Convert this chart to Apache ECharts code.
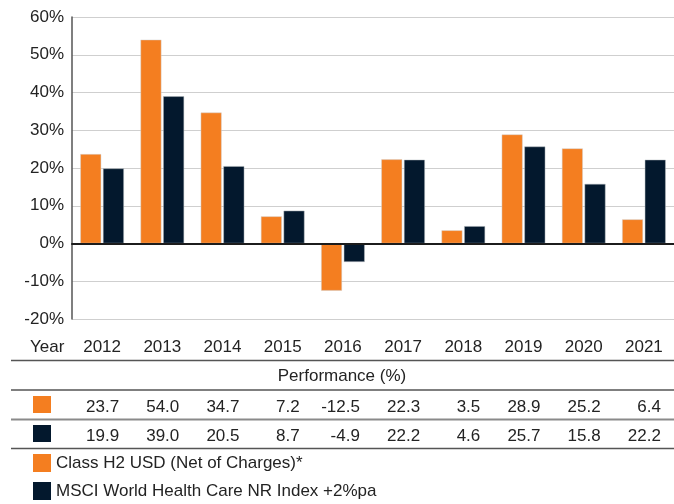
<!DOCTYPE html>
<html>
<head>
<meta charset="utf-8">
<script src="https://cdn.jsdelivr.net/npm/echarts@6/dist/echarts.min.js"></script>
<style>
  html, body { margin: 0; padding: 0; background: #fff; }
  #chart { width: 674px; height: 504px; }
</style>
</head>
<body>
<div id="chart"></div>
<script>
// chart data
const years = ['2012', '2013', '2014', '2015', '2016', '2017', '2018', '2019', '2020', '2021'];
const classH2 = [23.7, 54.0, 34.7, 7.2, -12.5, 22.3, 3.5, 28.9, 25.2, 6.4];
const msciIndex = [19.9, 39.0, 20.5, 8.7, -4.9, 22.2, 4.6, 25.7, 15.8, 22.2];
const seriesNames = ['Class H2 USD (Net of Charges)*', 'MSCI World Health Care NR Index +2%pa'];
const yMin = -20, yMax = 60, yStep = 10;

const ORANGE = '#f47e20';
const NAVY = '#03182d';
const FONT = "'Liberation Sans', Arial, sans-serif";
const TXT = '#232323';

let chart = echarts.init(document.getElementById('chart'));

// axis that only shows a row of table values under each year
function valueRow(values, offset) {
  return {
    type: 'category',
    data: years,
    position: 'bottom',
    offset: offset,
    axisLine: { show: false, onZero: false },
    axisTick: { show: false },
    axisLabel: {
      interval: 0,
      margin: 0,
      formatter: function (v, i) {
        return '{v|' + values[i].toFixed(1) + '}'
      },
      rich: {
        v: { width: 34, align: 'right', fontSize: 17, fontFamily: FONT, color: TXT }
      }
    }
  }
}

let option = {
  animation: false,
  color: [ORANGE, NAVY],
  textStyle: { fontFamily: FONT },
  grid: { left: 72, right: -3, top: 17, bottom: 185 },
  legend: {
    orient: 'vertical',
    left: 33,
    top: 454,
    height: 100,
    icon: 'rect',
    itemWidth: 18,
    itemHeight: 18,
    itemGap: 10,
    padding: 0,
    data: seriesNames,
    itemStyle: { borderWidth: 0 },
    textStyle: { fontSize: 17, color: TXT, fontFamily: FONT }
  },
  xAxis: [
    {
      type: 'category',
      data: years,
      position: 'bottom',
      axisLine: { show: false, onZero: false },
      axisTick: { show: false },
      axisLabel: { interval: 0, margin: 20, fontSize: 17, color: TXT, fontFamily: FONT }
    },
    {
      // zero line
      type: 'category',
      data: years,
      z: 5,
      axisLine: { show: true, onZero: true, lineStyle: { color: '#1c1c1c', width: 2 } },
      axisTick: { show: false },
      axisLabel: { show: false }
    },
    valueRow(classH2, 80),
    valueRow(msciIndex, 109)
  ],
  yAxis: {
    type: 'value',
    min: yMin,
    max: yMax,
    interval: yStep,
    axisLine: { show: true, lineStyle: { color: '#555', width: 1.5 } },
    axisTick: { show: false },
    axisLabel: { formatter: '{value}%', margin: 8, fontSize: 17, color: TXT, fontFamily: FONT },
    splitLine: { lineStyle: { color: '#cfcfcf', width: 1 } }
  },
  series: [
    {
      name: seriesNames[0],
      type: 'bar',
      data: classH2,
      barWidth: 21,
      barGap: '8%',
      itemStyle: { borderColor: 'rgba(210,210,210,0.8)', borderWidth: 0.6 }
    },
    {
      name: seriesNames[1],
      type: 'bar',
      data: msciIndex,
      barWidth: 21,
      barGap: '8%',
      itemStyle: { borderColor: 'rgba(180,185,190,0.8)', borderWidth: 0.6 }
    }
  ],
  graphic: [
    { type: 'text', left: 30, top: 339, style: { text: 'Year', fontSize: 17, fill: TXT, fontFamily: FONT } },
    { type: 'line', shape: { x1: 11, y1: 360.5, x2: 674, y2: 360.5 }, style: { stroke: '#555', lineWidth: 1.5 } },
    { type: 'text', x: 342, y: 376, style: { text: 'Performance (%)', fontSize: 17, fill: TXT, fontFamily: FONT, align: 'center', verticalAlign: 'middle' } },
    { type: 'line', shape: { x1: 11, y1: 390, x2: 674, y2: 390 }, style: { stroke: '#555', lineWidth: 1.5 } },
    { type: 'rect', shape: { x: 33, y: 396, width: 18, height: 17 }, style: { fill: ORANGE } },
    { type: 'line', shape: { x1: 11, y1: 419.5, x2: 674, y2: 419.5 }, style: { stroke: '#8a8a8a', lineWidth: 2 } },
    { type: 'rect', shape: { x: 33, y: 425, width: 18, height: 17 }, style: { fill: NAVY } },
    { type: 'line', shape: { x1: 11, y1: 448.5, x2: 674, y2: 448.5 }, style: { stroke: '#555', lineWidth: 1.5 } }
  ]
};

chart.setOption(option);
</script>
</body>
</html>
